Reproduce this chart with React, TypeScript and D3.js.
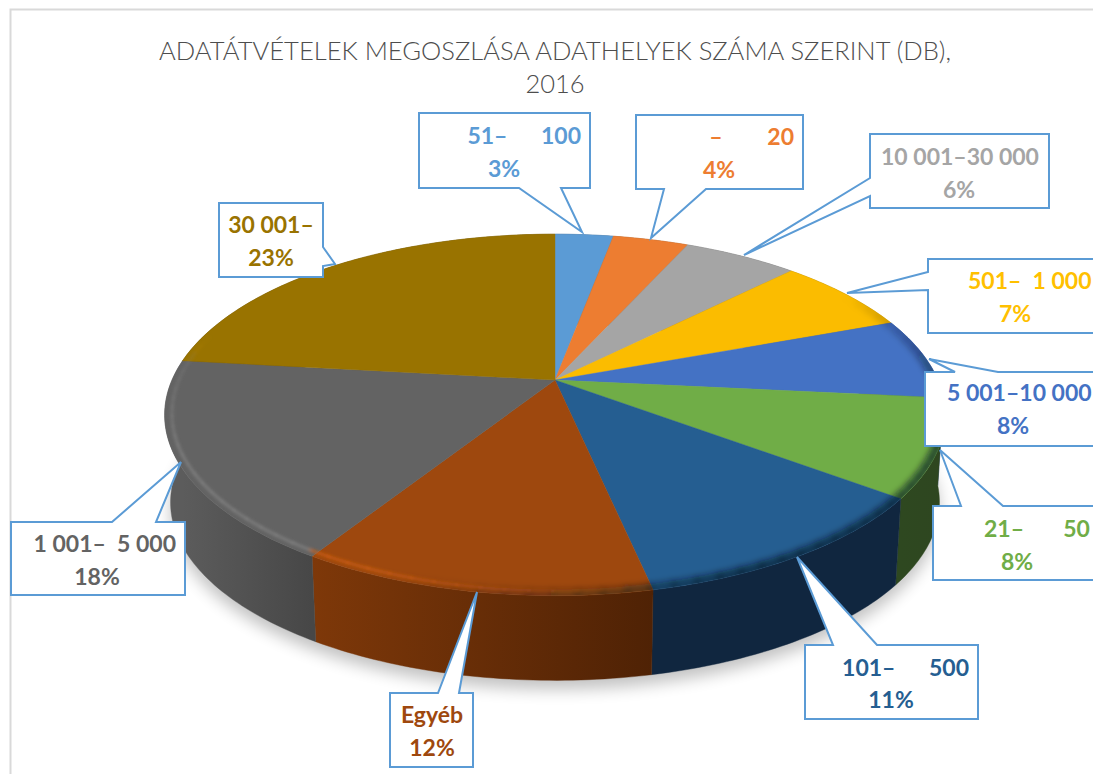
import React from "react";
import * as d3 from "d3";

const titleLines = ["ADATÁTVÉTELEK MEGOSZLÁSA ADATHELYEK SZÁMA SZERINT (DB),", "2016"];
const categories = ["51–\u00a0\u00a0\u00a0\u00a0\u00a0\u00a0100", "–\u00a0\u00a0\u00a0\u00a0\u00a0\u00a0\u00a0\u00a020", "10 001–30 000", "501–\u00a0\u00a01 000", "5 001–10 000", "21–\u00a0\u00a0\u00a0\u00a0\u00a0\u00a0\u00a050", "101–\u00a0\u00a0\u00a0\u00a0\u00a0\u00a0500", "Egyéb", "1 001–\u00a0\u00a05 000", "30 001–"];
const percents = [3, 4, 6, 7, 8, 8, 11, 12, 18, 23];
// Slice sizes as actually (labels above are rounded figures)
const sliceShares = [2.9, 3.77, 5.69, 6.94, 7.3, 8.7, 11.37, 12.23, 17.9, 23.2];
const colors = ["#5b9bd5", "#ed7d31", "#a5a5a5", "#fbbc00", "#4472c4", "#70ad47", "#255e91", "#9e480e", "#636363", "#997300"];
const textColors = ["#5b9bd5", "#ed7d31", "#a5a5a5", "#ffc000", "#4472c4", "#70ad47", "#255e91", "#9e480e", "#636363", "#997300"];
const sideLeft = ["#3a6285", "#96501f", "#696969", "#a07900", "#2b487d", "#2e4820", "#10263f", "#7e3809", "#5c5c5c", "#614900"];
const sideRight = ["#3a6285", "#96501f", "#696969", "#a07900", "#2b487d", "#2e4620", "#10263f", "#4f2205", "#474747", "#614900"];

type Callout = { box: number[]; side: "top" | "bottom" | "left" | "right"; base: number[]; tip: number[]; l1: [number, number, string]; l2: [number, number] };
const callouts: Callout[] = [
  { box: [419, 113, 590, 188], side: "bottom", base: [519, 561], tip: [582, 232], l1: [581, 144, "end"], l2: [504, 177] },
  { box: [636, 115, 803, 189], side: "bottom", base: [664, 706], tip: [651, 238], l1: [794, 145, "end"], l2: [719, 178] },
  { box: [870, 134, 1049, 208], side: "left", base: [178, 196], tip: [744, 255], l1: [960, 165, "middle"], l2: [959, 198] },
  { box: [928, 259, 1110, 333], side: "left", base: [272, 290], tip: [847, 293], l1: [968, 289, "start"], l2: [1015, 322] },
  { box: [925, 372, 1110, 446], side: "top", base: [955, 998], tip: [929, 359], l1: [947, 401, "start"], l2: [1013, 434] },
  { box: [933, 506, 1110, 580], side: "top", base: [961, 1003], tip: [940, 450], l1: [984, 537, "start"], l2: [1017, 570] },
  { box: [805, 645, 978, 719], side: "top", base: [833, 877], tip: [797, 557], l1: [969, 676, "end"], l2: [891, 708] },
  { box: [390, 693, 473, 767], side: "top", base: [438, 459], tip: [477, 592], l1: [432, 723, "middle"], l2: [432, 756] },
  { box: [11, 522, 185, 595], side: "top", base: [112, 156], tip: [181, 462], l1: [176, 552, "end"], l2: [97, 585] },
  { box: [219, 203, 323, 277], side: "right", base: [247, 266], tip: [335, 264], l1: [271, 233, "middle"], l2: [271, 266] },
];

const apexX = 555, apexY = 380, A = 383, B = 174, K = 0.193, depth = 88, bottomScale = 0.985;

function project(theta: number, r = 1, bottom = false): [number, number] {
  const u = r * Math.sin(theta), v = r * Math.cos(theta);
  const w = 1 + K * v;
  const s = bottom ? bottomScale : 1;
  return [apexX + (s * A * u) / w, apexY + (bottom ? depth : 0) - (s * B * v) / w];
}
const arcPoints = (a0: number, a1: number, r = 1, bottom = false) => {
  const step = Math.PI / 180;
  const n = Math.max(1, Math.ceil((a1 - a0) / step));
  return d3.range(n + 1).map((i) => project(a0 + ((a1 - a0) * i) / n, r, bottom));
};
const line = d3.line();
const slices = d3.pie<number>().sort(null).value((d) => d)(sliceShares);
const fullRim = line(arcPoints(0, Math.PI * 2))! + "Z";
const bottomRim = line(arcPoints(0, Math.PI * 2, 1, true))! + "Z";

const bump = (deg: number, peak: number, half: number) => Math.max(0, 1 - Math.abs(deg - peak) / half);
const rimSegments = d3.range(0, 360, 3).map((deg) => {
  const a0 = (deg * Math.PI) / 180, a1 = ((deg + 3.5) * Math.PI) / 180;
  const idx = slices.findIndex((s) => a0 >= s.startAngle && a0 < s.endAngle);
  return { deg, a0, a1, light: d3.color(colors[Math.max(0, idx)])!.brighter(0.8).formatHex() };
});

function calloutPath(c: Callout) {
  const [x0, y0, x1, y1] = c.box;
  const [b0, b1] = c.base;
  const tip = c.tip as [number, number];
  const pts: [number, number][] = [[x0, y0]];
  if (c.side === "top") pts.push([b0, y0], tip, [b1, y0]);
  pts.push([x1, y0]);
  if (c.side === "right") pts.push([x1, b0], tip, [x1, b1]);
  pts.push([x1, y1]);
  if (c.side === "bottom") pts.push([b1, y1], tip, [b0, y1]);
  pts.push([x0, y1]);
  if (c.side === "left") pts.push([x0, b1], tip, [x0, b0]);
  return line(pts)! + "Z";
}

export default function App() {
  return (
    <svg width={1093} height={774} viewBox="0 0 1093 774" style={{ position: "absolute", left: 0, top: 0, display: "block", background: "#fff" }}>
      <defs>
        <filter id="shadow" x="-20%" y="-20%" width="140%" height="140%"><feGaussianBlur stdDeviation="8" /></filter>
        <filter id="soft" x="-10%" y="-10%" width="120%" height="120%"><feGaussianBlur stdDeviation="1.6" /></filter>
        <filter id="softer" x="-10%" y="-10%" width="120%" height="120%"><feGaussianBlur stdDeviation="3" /></filter>
        <clipPath id="disc"><path d={fullRim} /></clipPath>
        {slices.map((s, i) => {
          const p0 = project(s.startAngle), p1 = project(s.endAngle);
          return (
            <linearGradient key={i} id={`side${i}`} gradientUnits="userSpaceOnUse" x1={Math.min(p0[0], p1[0])} x2={Math.max(p0[0], p1[0])} y1={0} y2={0}>
              <stop offset="0" stopColor={sideLeft[i]} />
              <stop offset="1" stopColor={sideRight[i]} />
            </linearGradient>
          );
        })}
      </defs>
      <path d="M10.5 774V9.5H1093" fill="none" stroke="#d9d9d9" strokeWidth={2} />
      <path d={bottomRim} transform="translate(0,9)" fill="#000" opacity={0.24} filter="url(#shadow)" />
      {slices.map((s, i) => {
        const top = arcPoints(s.startAngle, s.endAngle);
        const bot = arcPoints(s.startAngle, s.endAngle, 1, true).reverse();
        return <path key={i} d={line([...top, ...bot])! + "Z"} fill={`url(#side${i})`} stroke={`url(#side${i})`} strokeWidth={0.4} />;
      })}
      {slices.map((s, i) => (
        <path key={i} d={line([[apexX, apexY], ...arcPoints(s.startAngle, s.endAngle)])! + "Z"} fill={colors[i]} stroke={colors[i]} strokeWidth={0.4} />
      ))}
      <g clipPath="url(#disc)">
        <g filter="url(#softer)">
          {rimSegments.map((g) => {
            const o = 0.6 * Math.min(1, bump(g.deg, 128, 72) * 1.6);
            return o > 0 ? <path key={g.deg} d={line(arcPoints(g.a0, g.a1, 0.995))!} fill="none" stroke="#06121f" strokeOpacity={o} strokeWidth={10} /> : null;
          })}
        </g>
        <g filter="url(#soft)">
          {rimSegments.map((g) => {
            const o = 0.7 * Math.min(1, bump(g.deg, 225, 60) * 1.5);
            return o > 0 ? <path key={g.deg} d={line(arcPoints(g.a0, g.a1, 0.982))!} fill="none" stroke={g.light} strokeOpacity={o} strokeWidth={3} /> : null;
          })}
        </g>
      </g>
      {callouts.map((c, i) => <path key={i} d={calloutPath(c)} fill="#fff" stroke="#5b9bd5" strokeWidth={2} strokeLinejoin="miter" />)}
      <g fontFamily="Lato, sans-serif" fontWeight={700} fontSize={23}>
        {callouts.map((c, i) => (
          <g key={i} fill={textColors[i]}>
            <text x={c.l1[0]} y={c.l1[1]} textAnchor={c.l1[2] as any}>{categories[i]}</text>
            <text x={c.l2[0]} y={c.l2[1]} textAnchor="middle">{percents[i]}%</text>
          </g>
        ))}
      </g>
      <g fontFamily="Lato, sans-serif" fontSize={25.5} fontWeight={300} fill="#4d4d4d" textAnchor="middle">
        <text x={555} y={60} textLength={792} lengthAdjust="spacingAndGlyphs">{titleLines[0]}</text>
        <text x={555} y={93}>{titleLines[1]}</text>
      </g>
    </svg>
  );
}
